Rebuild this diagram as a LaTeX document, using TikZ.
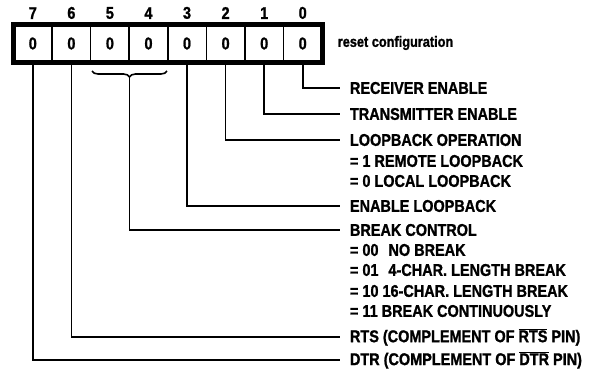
\documentclass[tikz,border=0pt]{standalone}
\usepackage{fontspec}
\setmainfont{Liberation Sans}
\newfontfamily\lblfont{Liberation Sans Bold}[FakeStretch=0.85, FakeBold=1.2]
\usetikzlibrary{decorations.pathreplacing}

\begin{document}
\begin{tikzpicture}[x=1pt, y=-1pt, line width=1.6pt,
  every node/.style={font=\fontsize{17}{19}\lblfont},
  cell/.style={draw, line width=1.5pt, minimum width=38.56pt, minimum height=38pt, inner sep=0pt},
  bitno/.style={inner sep=0pt, label distance=4pt},
  lbl/.style={anchor=west, inner xsep=10pt, inner ysep=0pt, outer sep=0pt}]
\useasboundingbox (0,0) rectangle (594,373);

% the register cells
\node[cell, label={[bitno]90:7}] (c7) at (32.8,43.5) {0};
\node[cell, label={[bitno]90:6}] (c6) at (71.4,43.5) {0};
\node[cell, label={[bitno]90:5}] (c5) at (109.9,43.5) {0};
\node[cell, label={[bitno]90:4}] (c4) at (148.5,43.5) {0};
\node[cell, label={[bitno]90:3}] (c3) at (187.0,43.5) {0};
\node[cell, label={[bitno]90:2}] (c2) at (225.6,43.5) {0};
\node[cell, label={[bitno]90:1}] (c1) at (264.2,43.5) {0};
\node[cell, label={[bitno]90:0}] (c0) at (302.7,43.5) {0};
\draw[line width=5pt] (13.5,24.5) rectangle (322,62.5);

\node[anchor=west, inner sep=0pt, font=\fontsize{15}{17}\lblfont] (reset) at (337,43) {reset configuration};

% bit descriptions
\node[lbl] (rx) at (340,88) {RECEIVER ENABLE};
\node[lbl] (tx) at (340,114) {TRANSMITTER ENABLE};
\node[lbl] (lb) at (340,140) {LOOPBACK OPERATION};
\node[lbl] (lb1) at (340,161) {= 1 REMOTE LOOPBACK};
\node[lbl] (lb0) at (340,181) {= 0 LOCAL LOOPBACK};
\node[lbl] (el) at (340,206) {ENABLE LOOPBACK};
\node[lbl] (br) at (340,230) {BREAK CONTROL};
\node[lbl] (b00) at (340,250) {= 00\hspace{10pt}NO BREAK};
\node[lbl] (b01) at (340,270) {= 01\hspace{10pt}4-CHAR. LENGTH BREAK};
\node[lbl] (b10) at (340,291) {= 10 16-CHAR. LENGTH BREAK};
\node[lbl] (b11) at (340,311) {= 11 BREAK CONTINUOUSLY};
\node[lbl] (rts) at (340,337) {RTS (COMPLEMENT OF $\overline{\mbox{RTS}}$ PIN)};
\node[lbl] (dtr) at (340,360) {DTR (COMPLEMENT OF $\overline{\mbox{DTR}}$ PIN)};

% connectors
\draw (c0.south) |- (rx.west);
\draw (c1.south) |- (tx.west);
\draw (c2.south) |- (lb.west);
\draw (c3.south) |- (el.west);
\draw[decorate, decoration={brace, mirror, amplitude=6pt}] (92,71) -- (167,71);
\coordinate (bk) at (129.5,77);
\draw (bk) |- (br.west);
\draw (c6.south) |- (rts.west);
\draw (c7.south) |- (dtr.west);
\end{tikzpicture}
\end{document}
